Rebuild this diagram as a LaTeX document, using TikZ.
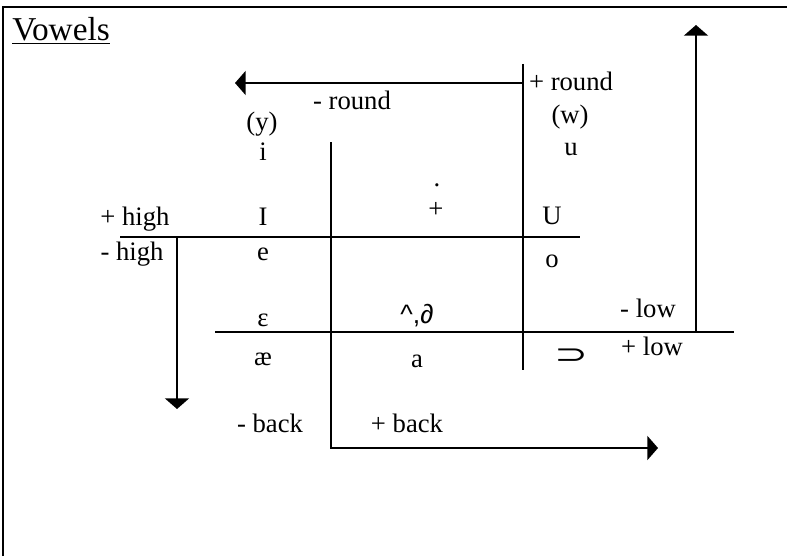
\documentclass[tikz,border=0pt]{standalone}
\usepackage{fontspec}
\setmainfont{Liberation Serif}
\newfontfamily\symfont{DejaVu Sans}
\newfontfamily\arialfont{Liberation Sans}
\usepackage{graphicx}
\usepackage{tikz}
\usetikzlibrary{arrows.meta}
\tikzset{
    lbl/.style={anchor=base,inner sep=0pt,font=\fontsize{20}{24}\selectfont},
    ttl/.style={lbl,anchor=base west,font=\fontsize{25}{30}\selectfont},
    bar/.style={line width=1.5pt},
    axis/.style={bar,-{Triangle[length=8pt,width=18pt]}},
}

\begin{document}
\begin{tikzpicture}[x=0.75pt,y=-0.75pt]
\useasboundingbox (0,0) rectangle (787,556);
% frame, cut off at the right and at the bottom
\coordinate (fbl) at (3,556);
\coordinate (ftl) at (3,7);
\coordinate (ftr) at (787,7);
\draw[bar] (fbl) -- (ftl) -- (ftr);
\node[ttl] (vowels) at (12,41) {\underline{Vowels}};

% round axis
\coordinate (rtop) at (523,64);
\coordinate (rbot) at (523,370);
\coordinate (rarr) at (523,83);
\coordinate (rtip) at (235,83);
\draw[bar] (rtop) -- (rbot);
\draw[axis] (rarr) -- (rtip);

% back axis
\coordinate (btop) at (331,142);
\coordinate (bcorner) at (331,448);
\coordinate (btip) at (658,448);
\draw[axis] (btop) -- (bcorner) -- (btip);

% high axis
\coordinate (hl) at (120,237);
\coordinate (hr) at (580,237);
\coordinate (hdrop) at (177,237);
\coordinate (htip) at (177,409);
\draw[bar] (hl) -- (hr);
\draw[axis] (hdrop) -- (htip);

% low axis
\coordinate (ll) at (215,332);
\coordinate (lr) at (734,332);
\coordinate (lrise) at (696,332);
\coordinate (ltip) at (696,25);
\draw[bar] (ll) -- (lr);
\draw[axis] (lrise) -- (ltip);

% feature labels
\node[lbl] (mround) at (352,110) {- round};
\node[lbl] (pround) at (571,91)  {+ round};
\node[lbl] (phigh)  at (135,225) {+ high};
\node[lbl] (mhigh)  at (132,260) {- high};
\node[lbl] (mlow)   at (648,317) {- low};
\node[lbl] (plow)   at (652,355) {+ low};
\node[lbl] (mback)  at (270,432) {- back};
\node[lbl] (pback)  at (407,432) {+ back};

% vowels
\node[lbl] (ylab)   at (262,131) {(y)};
\node[lbl] (wlab)   at (570,123) {(w)};
\node[lbl] (vi)     at (263,160) {i};
\node[lbl] (vu)     at (571,155) {u};
\node[lbl] (pdot)   at (437,186) {.};
\node[lbl] (pbar)   at (436,217) {+};
\node[lbl] (vI)     at (263,225) {I};
\node[lbl] (vU)     at (552,224) {U};
\node[lbl] (ve)     at (263,260) {e};
\node[lbl] (vo)     at (552,267) {o};
\node[lbl] (veps)   at (263,326) {ɛ};
\node[lbl] (vwedge) at (417,323) {\arialfont\textasciicircum,∂};
\node[lbl] (vae)    at (263,365) {æ};
\node[lbl] (va)     at (417,367) {a};
\node[lbl] (vopen)  at (571,363) {\scalebox{1.5}[1]{\symfont ⊃}};
\end{tikzpicture}
\end{document}
